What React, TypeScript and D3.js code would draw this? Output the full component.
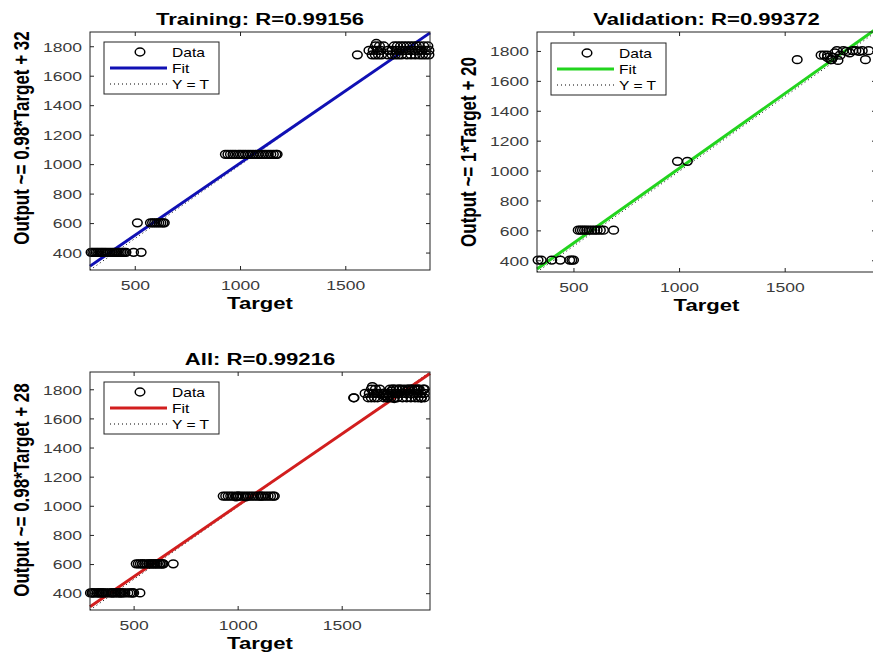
import { useRef, useEffect } from "react";
import * as d3 from "d3";

// [target, output] pairs
const trainingPoints: [number, number][] = [
  [290, 405], [298, 405], [306, 405], [314, 405], [322, 405], [330, 405], [338, 405],
  [346, 405], [354, 405], [362, 405], [372, 405], [382, 405], [392, 405], [400, 405],
  [408, 405], [416, 405], [424, 405], [432, 405], [440, 405], [448, 405], [456, 405],
  [492, 405], [528, 405],
  [510, 605], [572, 605], [582, 605], [592, 605], [602, 605], [612, 605], [622, 605],
  [632, 605], [638, 605],
  [928, 1070], [940, 1070], [952, 1070], [964, 1070], [976, 1070], [990, 1070],
  [1000, 1070], [1012, 1070], [1024, 1070], [1036, 1070], [1048, 1070], [1060, 1070],
  [1072, 1070], [1084, 1070], [1096, 1070], [1108, 1070], [1120, 1070], [1132, 1070],
  [1144, 1070], [1156, 1070], [1168, 1070], [1174, 1070],
  [1555, 1745], [1625, 1745], [1640, 1745], [1655, 1745], [1670, 1745], [1700, 1745],
  [1720, 1745], [1735, 1745], [1750, 1745], [1765, 1745], [1790, 1745], [1810, 1745],
  [1830, 1745], [1850, 1745], [1865, 1745], [1880, 1745], [1895, 1745],
  [1610, 1775], [1630, 1775], [1650, 1775], [1665, 1775], [1700, 1775], [1720, 1775],
  [1740, 1775], [1755, 1775], [1770, 1775], [1785, 1775], [1800, 1775], [1815, 1775],
  [1830, 1775], [1845, 1775], [1860, 1775], [1880, 1775], [1895, 1775],
  [1640, 1805], [1660, 1805], [1680, 1805], [1730, 1805], [1745, 1805], [1760, 1805],
  [1775, 1805], [1790, 1805], [1805, 1805], [1820, 1805], [1835, 1805], [1850, 1805],
  [1870, 1805], [1890, 1805], [1645, 1822],
];

const validationPoints: [number, number][] = [
  [330, 405], [345, 405], [395, 405], [435, 405], [480, 405], [490, 405], [498, 405],
  [520, 605], [530, 605], [540, 605], [550, 605], [560, 605], [572, 605], [585, 605],
  [598, 605], [610, 605], [625, 605], [640, 605], [688, 605],
  [990, 1065], [1037, 1065],
  [1557, 1745], [1670, 1775], [1685, 1775], [1700, 1775], [1700, 1760], [1715, 1745],
  [1720, 1745], [1725, 1760], [1735, 1790], [1745, 1805], [1750, 1740], [1760, 1775],
  [1775, 1805], [1790, 1800], [1805, 1790], [1820, 1805], [1835, 1805], [1850, 1800],
  [1865, 1805], [1880, 1745], [1895, 1805],
];

const testPoints: [number, number][] = [
  [300, 405], [470, 405], [540, 605], [1000, 1070], [1110, 1070],
  [1700, 1775], [1860, 1805], [1880, 1745],
];

const allPoints = [...trainingPoints, ...validationPoints, ...testPoints];

const xTicks = [500, 1000, 1500];
const yTicks = [400, 600, 800, 1000, 1200, 1400, 1600, 1800];

const SX = 1.3; // horizontal stretch of the original image
const FONT = "'Liberation Sans', Arial, sans-serif";

type Panel = {
  title: string;
  yLabel: string;
  points: [number, number][];
  slope: number;
  intercept: number;
  color: string;
  domain: [number, number];
  box: [number, number, number, number]; // x0, x1, y0, y1
  labelX: number;
  labelY: number;
  legend: [number, number];
};

const panels: Panel[] = [
  {
    title: "Training: R=0.99156",
    yLabel: "Output ~= 0.98*Target + 32",
    points: trainingPoints,
    slope: 0.98,
    intercept: 32,
    color: "#1010b4",
    domain: [285, 1900],
    box: [90, 430, 32, 270],
    labelX: 29,
    labelY: 138,
    legend: [104, 42],
  },
  {
    title: "Validation: R=0.99372",
    yLabel: "Output ~= 1*Target + 20",
    points: validationPoints,
    slope: 1,
    intercept: 20,
    color: "#22d41e",
    domain: [325, 1930],
    box: [537, 876, 32, 272],
    labelX: 476,
    labelY: 152,
    legend: [551, 43],
  },
  {
    title: "All: R=0.99216",
    yLabel: "Output ~= 0.98*Target + 28",
    points: allPoints,
    slope: 0.98,
    intercept: 28,
    color: "#d21e1e",
    domain: [288, 1922],
    box: [90, 430, 372, 610],
    labelX: 29,
    labelY: 490,
    legend: [104, 382],
  },
];

function addText(
  g: d3.Selection<SVGGElement, unknown, null, undefined>,
  x: number,
  y: number,
  str: string,
  size: number,
  opts: { weight?: string; anchor?: string; rotate?: boolean; fill?: string } = {},
) {
  g.append("text")
    .attr("transform", `translate(${x},${y}) scale(${SX},1)${opts.rotate ? " rotate(-90)" : ""}`)
    .attr("text-anchor", opts.anchor ?? "start")
    .attr("font-family", FONT)
    .attr("font-size", size)
    .attr("font-weight", opts.weight ?? "normal")
    .attr("fill", opts.fill ?? "#000")
    .text(str);
}

export default function App() {
  const svgRef = useRef<SVGSVGElement>(null);

  useEffect(() => {
    if (!svgRef.current) return;
    const svg = d3.select(svgRef.current);
    svg.selectAll("*").remove();
    svg.append("rect").attr("width", 873).attr("height", 652).attr("fill", "#fff");

    panels.forEach((p) => {
      const [x0, x1, y0, y1] = p.box;
      const x = d3.scaleLinear().domain(p.domain).range([x0, x1]);
      const y = d3.scaleLinear().domain(p.domain).range([y1, y0]);
      const g = svg.append("g");

      // ticks (inward, all sides)
      xTicks.forEach((t) => {
        g.append("line").attr("x1", x(t)).attr("x2", x(t)).attr("y1", y1).attr("y2", y1 - 4).attr("stroke", "#222");
        g.append("line").attr("x1", x(t)).attr("x2", x(t)).attr("y1", y0).attr("y2", y0 + 4).attr("stroke", "#222");
        addText(g, x(t), y1 + 20, String(t), 13.5, { anchor: "middle", fill: "#3a3a3a" });
      });
      yTicks.forEach((t) => {
        g.append("line").attr("x1", x0).attr("x2", x0 + 4).attr("y1", y(t)).attr("y2", y(t)).attr("stroke", "#222");
        g.append("line").attr("x1", x1).attr("x2", x1 - 4).attr("y1", y(t)).attr("y2", y(t)).attr("stroke", "#222");
        addText(g, x0 - 8, y(t) + 4.8, String(t), 13.5, { anchor: "end", fill: "#3a3a3a" });
      });

      // Y = T
      g.append("line")
        .attr("x1", x(p.domain[0])).attr("y1", y(p.domain[0]))
        .attr("x2", x(p.domain[1])).attr("y2", y(p.domain[1]))
        .attr("stroke", "#000").attr("stroke-width", 1).attr("stroke-dasharray", "1,3");

      // fit
      const fit = (t: number) => p.slope * t + p.intercept;
      g.append("line")
        .attr("x1", x(p.domain[0])).attr("y1", y(fit(p.domain[0])))
        .attr("x2", x(p.domain[1])).attr("y2", y(Math.min(fit(p.domain[1]), p.domain[1] + 30)))
        .attr("stroke", p.color).attr("stroke-width", 3);

      // data
      g.selectAll(".pt")
        .data(p.points)
        .join("ellipse")
        .attr("cx", (d) => x(d[0]))
        .attr("cy", (d) => y(d[1]))
        .attr("rx", 4.8)
        .attr("ry", 3.9)
        .attr("fill", "none")
        .attr("stroke", "#000")
        .attr("stroke-width", 1.5);

      // box
      g.append("rect")
        .attr("x", x0).attr("y", y0).attr("width", x1 - x0).attr("height", y1 - y0)
        .attr("fill", "none").attr("stroke", "#222").attr("stroke-width", 1);

      // legend
      const [lx, ly] = p.legend;
      g.append("rect").attr("x", lx).attr("y", ly).attr("width", 115).attr("height", 52)
        .attr("fill", "#fff").attr("stroke", "#222");
      g.append("ellipse").attr("cx", lx + 36).attr("cy", ly + 10).attr("rx", 4.8).attr("ry", 3.9)
        .attr("fill", "none").attr("stroke", "#000").attr("stroke-width", 1.5);
      g.append("line").attr("x1", lx + 6).attr("x2", lx + 63).attr("y1", ly + 26).attr("y2", ly + 26)
        .attr("stroke", p.color).attr("stroke-width", 3);
      g.append("line").attr("x1", lx + 6).attr("x2", lx + 63).attr("y1", ly + 42).attr("y2", ly + 42)
        .attr("stroke", "#000").attr("stroke-dasharray", "1,3");
      addText(g, lx + 68, ly + 14.5, "Data", 12);
      addText(g, lx + 68, ly + 30.5, "Fit", 12);
      addText(g, lx + 68, ly + 46.5, "Y = T", 12);

      // labels
      addText(g, (x0 + x1) / 2, y0 - 7, p.title, 17, { anchor: "middle", weight: "bold" });
      addText(g, (x0 + x1) / 2, y1 + 39, "Target", 17, { anchor: "middle", weight: "bold" });
      addText(g, p.labelX, p.labelY, p.yLabel, 17, { anchor: "middle", weight: "bold", rotate: true });
    });
  }, []);

  return (
    <svg
      ref={svgRef}
      width={873}
      height={652}
      style={{ position: "absolute", left: 0, top: 0 }}
    />
  );
}
